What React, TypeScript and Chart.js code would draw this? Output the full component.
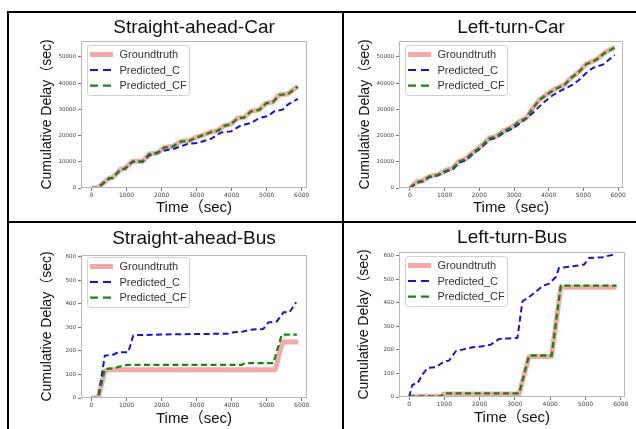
import { useEffect, useRef } from 'react';
import { Chart, registerables } from 'chart.js';

Chart.register(...registerables);

// ---------- shared labels / ticks ----------
const SERIES_LABELS = ['Groundtruth', 'Predicted_C', 'Predicted_CF'];
const X_TICKS = [0, 1000, 2000, 3000, 4000, 5000, 6000];
const CAR_Y_TICKS = [0, 10000, 20000, 30000, 40000, 50000];
const BUS_Y_TICKS = [0, 100, 200, 300, 400, 500, 600];
const X_TITLE = 'Time（sec)';
const Y_TITLE = 'Cumulative Delay（sec)';

// ---------- Straight-ahead-Car ----------
const SAC_GT_T = [0, 170, 505, 600, 838, 950, 1170, 1457, 1650, 1885, 2076, 2314, 2552, 2790, 2980, 3219, 3410, 3600, 3790, 3980, 4171, 4362, 4552, 4790, 4981, 5171, 5362, 5600, 5886];
const SAC_GT = [0, 0, 3800, 3900, 7250, 7400, 10200, 10200, 13000, 13400, 15500, 15900, 17800, 18100, 19300, 20400, 21400, 21900, 23800, 24400, 26700, 27000, 29300, 29900, 32400, 32800, 35600, 35900, 38800];
const SAC_C_T = [0, 170, 505, 600, 838, 950, 1170, 1457, 1650, 1980, 2360, 2740, 3030, 3410, 3700, 3980, 4270, 4552, 4790, 5030, 5220, 5457, 5600, 5886];
const SAC_C = [0, 0, 3700, 3800, 7100, 7300, 10000, 10000, 12400, 14000, 15000, 16800, 17200, 18800, 21200, 21600, 23900, 24800, 26700, 27400, 29300, 29900, 31800, 34000];
const SAC_CF_T = SAC_GT_T;
const SAC_CF = [0, 0, 3700, 3850, 7150, 7350, 10100, 10150, 12900, 13300, 15400, 15800, 17700, 18000, 19200, 20300, 21300, 21800, 23700, 24300, 26600, 26900, 29200, 29800, 32300, 32700, 35500, 35800, 38700];

// ---------- Left-turn-Car ----------
const LTC_GT_T = [0, 190, 365, 560, 800, 1040, 1230, 1420, 1615, 1800, 2050, 2290, 2480, 2720, 2960, 3150, 3350, 3540, 3730, 3970, 4210, 4450, 4640, 4880, 5080, 5370, 5600, 5900];
const LTC_GT = [0, 2300, 2800, 4450, 5100, 6700, 7600, 10200, 11200, 13400, 15900, 19100, 19700, 21900, 23500, 25400, 26700, 30500, 33700, 36000, 38000, 39400, 42000, 44500, 47300, 49000, 51500, 53700];
const LTC_C_T = [0, 190, 365, 560, 800, 1040, 1230, 1420, 1615, 1800, 2050, 2290, 2480, 2720, 2960, 3150, 3540, 3830, 4115, 4400, 4690, 4880, 5080, 5270, 5560, 5900];
const LTC_C = [0, 2000, 2500, 4100, 4800, 6300, 7100, 9600, 10600, 12800, 15300, 18400, 19100, 21200, 22700, 24400, 28600, 32400, 35400, 37500, 39400, 41300, 43900, 45800, 47100, 50800];
const LTC_CF_T = LTC_GT_T;
const LTC_CF = [0, 2200, 2700, 4400, 5000, 6600, 7500, 10100, 11100, 13300, 15800, 19000, 19600, 21800, 23400, 25300, 26600, 30400, 33600, 35900, 37900, 39300, 41900, 44400, 47200, 48900, 51400, 53600];

// ---------- Straight-ahead-Bus ----------
const SAB_GT_T = [0, 190, 380, 520, 5240, 5450, 5900];
const SAB_GT = [0, 0, 115, 120, 120, 238, 238];
const SAB_C_T = [0, 190, 380, 620, 760, 1050, 1190, 1330, 2140, 3950, 4050, 4330, 4520, 4900, 5050, 5290, 5480, 5650, 5840];
const SAB_C = [0, 0, 180, 184, 194, 194, 265, 267, 270, 273, 279, 282, 290, 293, 321, 325, 364, 364, 406];
const SAB_CF_T = [0, 190, 380, 620, 905, 1050, 4290, 4380, 5190, 5430, 5860];
const SAB_CF = [0, 0, 123, 126, 137, 141, 141, 148, 148, 269, 269];

// ---------- Left-turn-Bus ----------
const LTB_GT_T = [0, 900, 1000, 3120, 3400, 3970, 4040, 4300, 5880];
const LTB_GT = [3, 3, 13, 13, 172, 172, 172, 465, 465];
const LTB_C_T = [0, 95, 236, 378, 520, 756, 992, 1134, 1323, 1512, 1796, 2080, 2316, 2552, 2788, 3072, 3213, 3400, 3590, 3780, 3970, 4160, 4250, 4537, 4962, 5104, 5482, 5794];
const LTB_C = [0, 52, 57, 95, 123, 126, 151, 154, 194, 201, 211, 215, 222, 246, 248, 251, 406, 424, 446, 471, 481, 509, 547, 552, 562, 590, 593, 604];
const LTB_CF_T = LTB_GT_T;
const LTB_CF = [3, 3, 15, 15, 176, 176, 176, 472, 472];

// ---------- styling ----------
const PINK = '#f5a8a8';
const BLUE = '#1414d8';
const GREEN = '#118a11';
const SANS = '"Liberation Sans", Arial, "Noto Sans CJK SC", sans-serif';
const TICK_FONT = '"DejaVu Sans", sans-serif';

type Panel = {
  title: string;
  gt: [number[], number[]];
  c: [number[], number[]];
  cf: [number[], number[]];
  yTicks: number[];
  yMax: number;
  xMin: number;
  xMax: number;
  box: [number, number, number, number];
  area: [number, number, number, number];
  titleY: number;
  yLabelX: number;
  xLabelY: number;
  legendDy: number;
};

const PANELS: Panel[] = [
  {
    title: 'Straight-ahead-Car',
    gt: [SAC_GT_T, SAC_GT], c: [SAC_C_T, SAC_C], cf: [SAC_CF_T, SAC_CF],
    yTicks: CAR_Y_TICKS, yMax: 56100, xMin: -300, xMax: 6150,
    box: [9, 13, 332, 207], area: [81, 41, 307, 188], titleY: 28, yLabelX: 47, xLabelY: 208, legendDy: 4,
  },
  {
    title: 'Left-turn-Car',
    gt: [LTC_GT_T, LTC_GT], c: [LTC_C_T, LTC_C], cf: [LTC_CF_T, LTC_CF],
    yTicks: CAR_Y_TICKS, yMax: 56100, xMin: -315, xMax: 6140,
    box: [344, 13, 292, 207], area: [399, 41, 623, 188], titleY: 28, yLabelX: 365, xLabelY: 208, legendDy: 4,
  },
  {
    title: 'Straight-ahead-Bus',
    gt: [SAB_GT_T, SAB_GT], c: [SAB_C_T, SAB_C], cf: [SAB_CF_T, SAB_CF],
    yTicks: BUS_Y_TICKS, yMax: 607, xMin: -300, xMax: 6150,
    box: [9, 223, 332, 206], area: [81, 255, 307, 398], titleY: 239, yLabelX: 47, xLabelY: 419, legendDy: 2,
  },
  {
    title: 'Left-turn-Bus',
    gt: [LTB_GT_T, LTB_GT], c: [LTB_C_T, LTB_C], cf: [LTB_CF_T, LTB_CF],
    yTicks: BUS_Y_TICKS, yMax: 615, xMin: -285, xMax: 6120,
    box: [344, 223, 292, 206], area: [399, 252, 625, 397], titleY: 238, yLabelX: 364, xLabelY: 418, legendDy: 4,
  },
];

const pts = (t: number[], v: number[]) => t.map((x, i) => ({ x, y: v[i] }));

function makeChart(canvas: HTMLCanvasElement, p: Panel) {
  const [px, py, pw, ph] = p.box;
  const [L, T, R, B] = p.area;
  const titleLH = 19 * 1.2;
  const titlePadTop = p.titleY - py - titleLH / 2;
  const titlePadBottom = T - py - titlePadTop - titleLH;
  const xLH = 15 * 1.2;
  const xTitlePadBottom = ph - (p.xLabelY - py) - xLH / 2;
  const yLH = 14 * 1.2;
  const yTitlePadTop = p.yLabelX - px - yLH / 2;

  const framePlugin = {
    id: 'axesFrame',
    afterDatasetsDraw(chart: any) {
      const { ctx, chartArea: a } = chart;
      ctx.save();
      ctx.strokeStyle = '#b8b8b8';
      ctx.lineWidth = 1;
      ctx.strokeRect(a.left + 0.5, a.top + 0.5, a.right - a.left - 1, a.bottom - a.top - 1);
      ctx.restore();
    },
  };

  const legendPlugin = {
    id: 'insetLegend',
    afterDraw(chart: any) {
      const { ctx, chartArea: a } = chart;
      const x0 = a.left + 6;
      const y0 = a.top + p.legendDy;
      const w = 102;
      const h = 50;
      ctx.save();
      ctx.beginPath();
      (ctx as any).roundRect(x0 + 0.5, y0 + 0.5, w, h, 3);
      ctx.fillStyle = 'rgba(255,255,255,0.9)';
      ctx.fill();
      ctx.strokeStyle = '#d0d0d0';
      ctx.lineWidth = 1;
      ctx.stroke();
      chart.data.datasets.forEach((ds: any, i: number) => {
        const cy = y0 + 9.5 + i * 15.6;
        ctx.beginPath();
        ctx.setLineDash(ds.borderDash && ds.borderDash.length ? [8, 5] : []);
        ctx.lineWidth = ds.borderWidth;
        ctx.strokeStyle = ds.borderColor;
        ctx.lineCap = 'butt';
        ctx.moveTo(x0 + 3, cy);
        ctx.lineTo(x0 + 26, cy);
        ctx.stroke();
        ctx.setLineDash([]);
        ctx.fillStyle = '#333';
        ctx.font = `11px ${SANS}`;
        ctx.textBaseline = 'middle';
        ctx.textAlign = 'left';
        ctx.fillText(ds.label, x0 + 32.5, cy + 0.5);
      });
      ctx.restore();
    },
  };

  return new Chart(canvas, {
    type: 'line',
    data: {
      datasets: [
        {
          label: SERIES_LABELS[0],
          data: pts(p.gt[0], p.gt[1]),
          borderColor: PINK,
          backgroundColor: PINK,
          borderWidth: 5,
          borderJoinStyle: 'round',
          pointRadius: 0,
          tension: 0,
          order: 3,
        },
        {
          label: SERIES_LABELS[1],
          data: pts(p.c[0], p.c[1]),
          borderColor: BLUE,
          backgroundColor: BLUE,
          borderWidth: 2,
          borderDash: [6, 3.5],
          pointRadius: 0,
          tension: 0,
          order: 2,
        },
        {
          label: SERIES_LABELS[2],
          data: pts(p.cf[0], p.cf[1]),
          borderColor: GREEN,
          backgroundColor: GREEN,
          borderWidth: 2.3,
          borderDash: [6, 3.5],
          pointRadius: 0,
          tension: 0,
          order: 1,
        },
      ],
    },
    options: {
      animation: false,
      responsive: false,
      maintainAspectRatio: false,
      devicePixelRatio: 1,
      layout: { padding: { left: 0, top: 0, bottom: 0, right: pw - (R - px) } },
      plugins: {
        legend: { display: false },
        tooltip: { enabled: false },
        title: {
          display: true,
          text: p.title,
          fullSize: false,
          color: '#111',
          font: { family: SANS, size: 19, weight: 'normal', lineHeight: 1.2 },
          padding: { top: titlePadTop, bottom: titlePadBottom },
        },
      },
      scales: {
        x: {
          type: 'linear',
          min: p.xMin,
          max: p.xMax,
          afterBuildTicks: (s: any) => {
            s.ticks = X_TICKS.map((v) => ({ value: v }));
          },
          afterFit: (s: any) => {
            s.height = py + ph - B;
          },
          grid: { drawOnChartArea: false, drawTicks: true, tickLength: 3, color: '#777', lineWidth: 1 },
          border: { display: false },
          ticks: {
            font: { family: TICK_FONT, size: 6 },
            color: '#444',
            padding: 1,
            maxRotation: 0,
            autoSkip: false,
            callback: (v: any) => String(v),
          },
          title: {
            display: true,
            text: X_TITLE,
            color: '#111',
            font: { family: SANS, size: 15, lineHeight: 1.2 },
            padding: { top: 0, bottom: xTitlePadBottom },
          },
        },
        y: {
          type: 'linear',
          min: 0,
          max: p.yMax,
          afterBuildTicks: (s: any) => {
            s.ticks = p.yTicks.map((v) => ({ value: v }));
          },
          afterFit: (s: any) => {
            s.width = L - px;
          },
          grid: { drawOnChartArea: false, drawTicks: true, tickLength: 3, color: '#777', lineWidth: 1 },
          border: { display: false },
          ticks: {
            font: { family: TICK_FONT, size: 5.5 },
            color: '#444',
            padding: 2,
            autoSkip: false,
            callback: (v: any) => String(v),
          },
          title: {
            display: true,
            text: Y_TITLE,
            color: '#111',
            font: { family: SANS, size: 14, lineHeight: 1.2 },
            padding: { top: yTitlePadTop, bottom: 0 },
          },
        },
      },
    } as any,
    plugins: [framePlugin, legendPlugin],
  } as any);
}

function PanelChart({ panel }: { panel: Panel }) {
  const ref = useRef<HTMLCanvasElement | null>(null);
  useEffect(() => {
    if (!ref.current) return;
    const chart = makeChart(ref.current, panel);
    return () => chart.destroy();
  }, [panel]);
  const [x, y, w, h] = panel.box;
  return (
    <canvas
      ref={ref}
      width={w}
      height={h}
      style={{ position: 'absolute', left: x, top: y, width: w, height: h }}
    />
  );
}

const line = (l: number, t: number, w: number, h: number) => (
  <div style={{ position: 'absolute', left: l, top: t, width: w, height: h, background: '#000' }} />
);

export default function App() {
  return (
    <div
      style={{
        position: 'fixed',
        left: 0,
        top: 0,
        width: 636,
        height: 429,
        background: '#fff',
        overflow: 'hidden',
      }}
    >
      {PANELS.map((p) => (
        <PanelChart key={p.title} panel={p} />
      ))}
      {line(7, 11, 629, 2)}
      {line(7, 11, 2, 418)}
      {line(342, 11, 2, 418)}
      {line(7, 221, 629, 2)}
    </div>
  );
}
